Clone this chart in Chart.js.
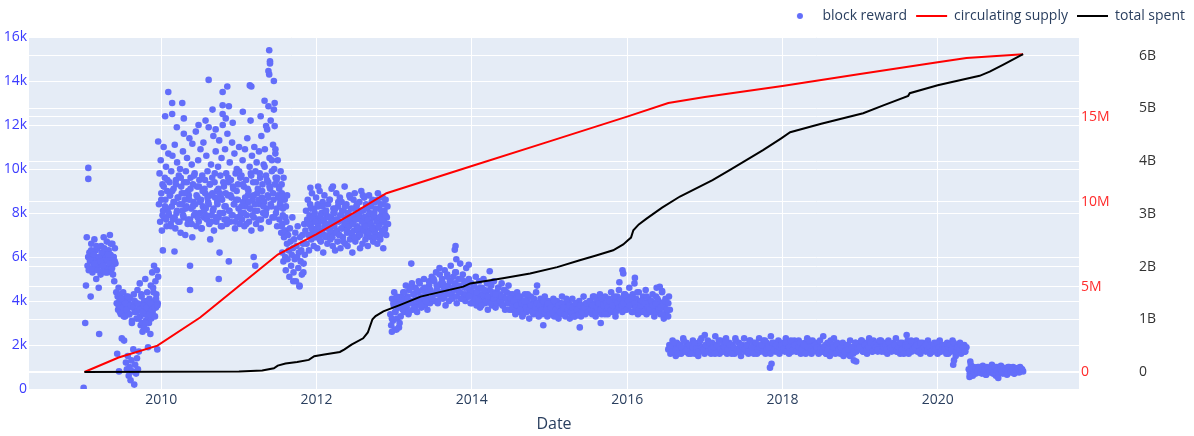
<!DOCTYPE html>
<html lang="en">
<head>
    <meta charset="UTF-8">
    <title>Block reward, circulating supply, total spent</title>
    <script src="https://cdn.jsdelivr.net/npm/chart.js"></script>
    <style>
        body { margin: 0; background: #fff; }
        #wrap { width: 1194px; height: 436px; }
    </style>
</head>
<body>
<div id="wrap"><canvas id="chainChart"></canvas></div>
<script>
// block reward (thousands), bulk of each era spread over its date range
var rewardFrom = [2009.05, 2009.42, 2009.97, 2011.55, 2012.95, 2016.53, 2020.40,
                  2009.08, 2009.45, 2010.00, 2011.90, 2012.97, 2016.56, 2020.42];
var rewardTo   = [2009.41, 2009.96, 2011.62, 2012.92, 2016.55, 2020.37, 2021.10,
                  2009.40, 2009.95, 2011.55, 2012.90, 2016.53, 2020.35, 2021.08];

var reward2009a = [5.6,6.0,5.4,6.2,5.8,4.2,6.6,5.9,5.3,6.1,5.7,6.8,5.5,6.3,5.0,5.9,6.4,5.6,4.6,5.8,
    6.0,5.2,6.5,5.7,6.1,5.4,6.9,5.8,6.2,5.5,6.0,6.7,5.3,5.9,6.3,5.6,7.0,6.1,5.4,5.8,6.6,5.2,6.0,4.9,6.4,5.7];
var reward2009b = [4.4,3.9,1.6,4.2,3.6,4.6,0.8,4.0,3.7,4.3,3.4,4.1,2.3,3.9,3.5,4.4,3.8,2.2,4.0,3.3,
    3.7,1.2,4.2,0.9,3.6,1.5,3.9,0.6,3.4,1.0,4.1,0.4,3.8,1.3,3.0,0.8,3.7,1.8,4.3,0.2,
    3.5,1.1,3.9,0.7,3.2,1.4,4.5,0.9,3.6,1.7,3.8,4.8,3.3,2.9,3.6,4.2,3.0,2.6,3.9,3.4,
    2.8,4.0,3.5,5.0,3.1,3.7,2.7,4.4,3.3,1.9,3.8,3.0,4.1,3.6,2.5,4.7,3.2,3.9,5.3,3.5,
    4.6,3.8,5.6,4.0,3.3,4.9,3.7,4.3,5.4,1.8,3.9,5.1];
var reward2010 = [8.4,9.8,7.6,10.4,8.9,7.2,9.3,8.1,11.0,7.8,9.6,8.6,10.1,7.4,9.0,8.2,10.7,7.9,9.4,8.8,
    7.5,9.9,8.3,10.6,7.7,9.1,8.5,11.1,7.3,9.5,8.0,10.3,8.7,7.6,9.7,8.4,10.0,7.1,9.2,8.9,
    8.1,10.8,7.8,9.4,8.6,7.0,9.9,8.3,10.5,7.5,9.0,8.8,11.4,7.7,9.6,8.2,10.2,6.9,9.3,8.5,
    7.9,9.8,8.4,11.7,7.4,9.2,8.7,10.4,7.6,9.5,8.0,10.9,8.6,7.3,9.7,8.3,11.2,7.8,9.1,8.9,
    8.2,10.6,7.7,9.9,8.5,11.9,7.5,9.3,8.8,10.2,7.9,9.6,8.1,11.5,7.2,9.4,8.7,10.8,7.6,9.0,
    8.4,10.1,7.8,11.3,8.9,9.7,7.4,10.5,8.6,12.0,8.0,9.2,7.7,10.9,8.3,9.8,7.5,11.6,8.8,9.4,
    8.1,10.3,7.6,9.5,8.7,11.2,7.9,9.1,8.4,10.7,7.3,9.8,8.6,10.0,7.8,9.3,8.2,11.0,7.5,9.6,
    8.0,9.7,7.7,10.4,8.5,9.2,7.4,10.9,8.3,9.5,7.9,11.4,8.8,9.0,7.6,10.1,8.2,9.8,7.2,10.6,
    8.6,9.4,7.8,11.0,8.1,9.9,7.5,10.3,8.9,9.1,7.7,10.8,8.4,9.6,7.3,11.5,8.7,9.3,8.0,10.2,
    8.5,10.9,7.9,9.7,8.2,11.8,8.8,9.4,7.6,10.5,9.1,12.2,8.3,9.9,7.8,11.1,8.6,10.0,9.3,10.7,
    8.0,9.5,7.4,10.4,8.7,9.2,7.7,8.4,9.9,7.1,8.9,7.5,8.2,9.6,7.0,8.6,7.8,8.3,7.2,8.8];
var reward2012 = [7.4,6.2,7.9,5.8,6.9,7.2,6.0,5.4,7.6,6.6,5.9,7.0,6.3,5.1,7.3,6.7,5.6,6.1,7.8,6.4,
    5.3,6.8,5.9,7.1,4.9,6.5,6.0,7.4,5.5,6.2,4.7,6.9,5.8,6.3,5.2,7.0,6.6,5.7,7.5,6.1,
    7.2,8.1,6.6,7.7,8.6,7.0,6.3,7.9,8.4,7.4,6.8,8.9,7.1,7.6,6.5,8.2,7.8,6.9,8.7,7.3,
    6.4,7.5,8.3,7.0,9.0,7.7,6.7,8.0,7.2,8.5,6.2,7.6,8.8,7.4,6.9,8.1,7.9,6.6,8.4,7.3,
    7.0,8.6,6.8,7.8,9.1,7.5,6.5,8.2,7.1,8.0,6.3,7.7,8.9,7.2,6.7,8.3,7.6,7.0,8.7,6.4,
    7.9,8.5,7.3,6.9,8.1,7.4,9.2,6.6,7.8,8.4,7.1,6.5,8.0,7.7,8.8,6.8,7.5,8.2,7.0,6.2,
    7.6,8.6,7.2,8.9,6.7,7.9,8.3,7.4,6.9,8.0,7.1,8.5,6.4,7.7,9.0,7.3,6.6,8.1,7.8,8.7,
    7.5,6.8,8.4,7.0,8.2,6.5,7.9,8.8,7.2,7.6,6.9,8.3,7.4,8.6,6.7,7.8,8.0,7.1,8.5,7.3,
    7.7,6.6,8.9,7.0,8.2,7.5,6.8,8.4,7.9,7.2,8.7,6.4,7.6,8.1,7.3,8.6,7.0,7.8,8.3,7.5];
var reward2013 = [3.4,2.9,4.1,3.1,3.8,2.7,3.5,4.0,3.2,3.7,2.8,3.9,3.3,4.2,
    3.8,4.4,3.5,4.1,4.7,3.7,4.2,3.4,4.5,3.9,4.0,4.8,3.6,4.3,3.8,4.6,4.1,3.5,4.4,4.9,
    3.9,4.2,3.7,4.5,4.0,5.0,3.8,4.3,4.6,3.6,4.1,4.7,3.9,4.4,5.1,4.0,
    4.3,4.9,4.0,5.3,4.5,3.9,4.7,5.5,4.2,4.8,5.0,4.1,4.6,5.4,3.8,4.4,5.2,4.7,4.0,4.9,
    5.6,4.3,4.6,5.1,4.2,4.8,5.3,3.9,4.5,5.0,4.4,5.7,4.1,4.7,5.2,4.3,4.9,4.0,5.5,4.6,4.2,5.0,4.5,3.9,4.8,
    4.4,4.0,4.7,4.2,5.1,3.8,4.5,4.1,4.9,3.7,4.3,4.6,4.0,5.0,4.2,3.9,4.4,4.8,3.6,4.1,
    4.5,4.0,4.7,3.8,4.3,4.9,4.1,3.7,4.4,4.2,4.6,3.9,4.3,4.0,4.8,3.8,4.2,4.5,3.6,4.1,4.4,3.9,4.7,4.0,4.3,
    4.0,3.6,4.3,3.8,4.1,3.4,3.9,4.4,3.7,4.0,3.5,4.2,3.8,3.3,4.0,3.6,4.3,3.9,3.5,4.1,
    3.7,3.2,3.9,4.2,3.6,3.8,3.4,4.0,3.7,4.4,3.5,3.9,3.3,3.8,4.1,3.6,3.4,3.9,3.7,4.2,3.5,3.8,3.3,4.0,3.6,
    3.7,3.4,3.9,3.6,4.1,3.3,3.8,3.5,4.0,3.7,3.2,3.6,3.9,3.5,4.2,3.4,3.7,3.8,3.3,3.6,
    4.0,3.5,3.9,3.2,3.7,3.4,4.1,3.6,3.8,3.3,3.5,3.9,3.7,3.4,4.0,3.6,3.3,3.8,3.5,4.2,3.7,3.4,3.9,3.6,3.5,
    3.8,3.5,4.0,3.7,3.4,4.2,3.6,3.9,3.3,3.8,4.1,3.5,3.7,4.3,3.6,3.4,4.0,3.8,3.5,4.2,
    3.7,3.9,3.4,4.1,3.6,3.8,4.4,3.5,3.9,3.7,4.0,3.3,3.8,4.2,3.6,4.5,3.7,3.9,4.1,3.5,3.8,4.3,3.6,4.0,3.9,
    4.2,3.7,4.6,3.9,4.0,3.5,4.3,3.8,4.8,3.6,4.1,3.9,3.4,4.4,3.7,4.0,3.5,3.8,4.2,3.6,
    3.9,4.5,3.4,3.7,4.1,3.8,3.5,4.0,3.6,4.3,3.9,3.3,3.7,4.2,3.5,3.8,4.0,3.6,3.4,3.9,
    4.4,3.7,3.2,3.8,4.1,3.5,3.9,3.3,4.2,3.6];
var reward2016 = [1.8,2.0,1.6,1.9,2.2,1.7,1.9,1.5,2.1,1.8,1.7,2.0,1.6,1.9,2.3,1.8,1.7,2.1,1.9,1.6,
    2.0,1.7,1.9,2.2,1.8,1.6,2.0,1.9,1.5,2.1,1.8,2.3,1.7,1.9,1.6,2.0,1.8,2.2,1.7,1.9,
    1.6,2.1,1.8,1.9,2.4,1.7,2.0,1.8,1.6,2.2,1.9,1.7,2.0,1.8,2.3,1.6,1.9,2.1,1.7,1.8,
    2.0,1.9,1.6,2.2,1.8,1.7,2.1,1.9,1.5,2.0,1.8,2.3,1.7,1.9,2.0,1.6,2.2,1.8,1.9,1.7,
    2.1,1.8,2.0,1.6,1.9,2.3,1.7,2.0,1.8,2.2,1.9,1.6,2.1,1.8,2.0,1.7,2.4,1.9,1.8,2.1,
    1.7,2.0,1.8,2.2,1.6,1.9,2.1,1.8,2.0,1.7,2.3,1.9,1.8,1.6,2.1,2.0,1.7,1.9,2.2,1.8,
    1.7,1.9,2.2,1.8,1.6,2.0,1.9,1.7,2.1,1.8,2.3,1.7,1.9,2.0,1.6,2.2,1.8,1.9,2.1,1.7,
    2.0,1.8,2.2,1.7,1.9,2.4,1.8,2.0,1.6,2.1,1.9,1.7,2.2,1.8,2.0,2.3,1.7,1.9,2.1,1.8,
    1.9,1.6,1.8,2.0,1.5,1.7,1.9,1.6,2.0,1.8,1.5,1.7,1.9,1.6,1.8,2.1,1.7,1.9,1.8,2.0,
    1.9,2.2,1.7,2.0,1.8,2.1,1.6,1.9,2.3,1.8,2.0,1.7,2.2,1.9,1.8,2.1,1.7,2.0,1.9,2.2,
    1.8,2.0,1.7,2.1,1.9,1.6,2.2,1.8,2.0,1.7,1.9,2.1,1.8,2.3,1.7,1.9,2.0,1.6,1.8,2.1,
    1.9,1.7,2.0,1.8,2.2,1.6,1.9,2.1,1.7,2.0,1.8,1.9,2.2,1.7,1.8,2.0,1.6,1.9,2.1,1.8,
    2.0,1.7,1.9,2.2,1.8,1.6,2.0,1.9,1.7,2.1,1.8,2.0,1.6,1.9,2.2,1.7,1.8,2.0,1.9,1.7,
    1.8,2.1,1.6,1.9,2.0,1.7,2.2,1.8,1.9,1.5,2.0,1.7,1.8,2.1,1.6,1.9,1.8,2.0,1.7,1.9];
var reward2020 = [0.9,0.7,1.1,0.8,0.6,1.0,0.9,0.7,0.8,1.0,0.75,0.95,0.85,0.7,1.05,0.8,0.9,0.65,1.0,0.85,
    0.75,0.95,0.8,1.1,0.7,0.9,0.85,0.6,1.0,0.8,0.9,0.75,1.05,0.85,0.7,0.95,0.8,0.9,0.65,1.0,
    0.85,0.75,0.9,0.8,1.0,0.7,0.95,0.85,0.8,0.9,0.75,1.0,0.85,0.9,0.8];

// second pass of readings for the same eras
var reward2009aB = [5.9,6.3,5.5,6.1,5.7,6.5,5.4,6.0,5.8,6.2,5.6,6.4,5.3,5.9,6.1,5.7,6.6,5.5,6.0,5.8];
var reward2009bB = [3.8,3.5,4.1,3.7,3.3,3.9,3.6,4.2,3.4,3.8,3.1,3.7,4.0,3.5,3.9,3.2,3.6,4.3,3.5,3.8,
    3.0,3.7,4.0,3.4,3.9,3.6,4.4,3.7,4.1,3.8];
var reward2010B = [8.6,7.9,9.2,8.3,7.7,9.5,8.0,8.8,7.4,9.0,8.5,7.8,9.3,8.1,8.7,7.6,9.6,8.4,7.9,8.9,
    8.2,9.4,7.7,8.6,9.1,7.5,8.3,9.7,8.0,8.8,7.8,9.2,8.5,7.3,9.0,8.1,9.5,7.9,8.7,8.4,
    9.3,7.6,8.9,8.2,9.8,7.8,8.5,9.1,8.0,8.7,7.4,9.4,8.3,8.9,7.7,9.6,8.1,8.8,7.9,9.2,
    8.4,7.6,9.0,8.6,9.9,7.8,8.3,9.3,8.0,8.7,7.5,9.1,8.5,8.2,9.7,7.9,8.8,8.4,9.4,8.1,
    8.6,9.8,7.7,9.0,8.3,10.1,8.0,9.5,8.7,9.2,8.4,10.4,8.9,7.8,9.6,8.2,8.8,9.1,8.5,9.3];
var reward2012B = [7.5,7.0,8.2,7.3,7.8,6.9,8.0,7.6,7.2,8.4,7.4,6.8,7.9,7.1,8.3,7.7,7.0,8.1,7.5,7.3,
    7.8,8.6,7.2,7.6,6.9,8.0,7.4,8.2,7.1,7.7,8.5,7.0,7.9,7.3,8.1,6.7,7.6,8.3,7.5,7.2,
    8.0,7.4,8.7,7.1,7.8,7.5,8.2,6.9,7.7,8.4,7.3,7.9,7.0,8.1,7.6,8.8,7.2,7.8,7.4,8.3,
    7.7,7.1,8.0,7.5,8.5,7.3,7.9,6.9,8.2,7.6,8.6,7.4,7.8,7.0,8.1,7.7,8.4,7.2,7.9,7.5];
var reward2013B = [3.2,3.9,3.5,4.2,3.7,3.0,4.0,3.6,4.4,3.8,4.1,3.5,4.6,3.9,4.3,3.7,4.5,4.0,4.8,3.8,4.2,4.6,4.0,4.4,4.9,
    4.5,4.1,5.0,4.3,4.7,4.0,5.2,4.4,4.8,4.2,4.6,5.1,4.3,4.9,4.1,4.5,5.3,4.2,4.7,4.4,5.0,4.1,4.6,4.3,4.8,
    4.2,4.5,3.9,4.7,4.1,4.4,4.0,4.6,3.8,4.3,4.5,4.0,4.2,4.8,3.9,4.4,4.1,4.3,3.9,4.6,4.0,4.2,3.8,4.5,4.1,
    3.9,3.6,4.1,3.7,4.0,3.5,3.8,4.2,3.6,3.9,3.4,4.0,3.7,4.3,3.6,3.8,3.5,4.1,3.7,3.9,3.4,3.8,3.6,4.0,3.5,
    3.6,3.9,3.4,3.7,3.5,4.0,3.6,3.3,3.8,3.5,3.9,3.7,3.4,4.1,3.6,3.8,3.5,3.7,3.3,3.9,3.6,3.4,3.8,3.5,3.7,
    3.7,3.9,3.5,4.0,3.6,3.8,4.2,3.5,3.7,3.9,3.6,4.1,3.8,3.4,3.9,3.7,4.0,3.6,3.8,4.2,3.5,3.9,3.7,4.1,3.8,
    3.9,4.3,3.6,4.0,3.8,4.1,3.5,3.9,3.7,4.4,3.6,3.8,4.0,3.5,3.9,4.2,3.7,3.6,4.0,3.8,3.5,3.9,4.1,3.6,3.7,3.4,3.8,4.0,3.6,3.9];
var reward2016B = [1.9,1.7,2.1,1.8,1.6,2.0,1.9,2.2,1.7,1.8,2.0,1.6,1.9,2.1,1.8,1.7,2.2,1.9,1.8,2.0,
    1.7,2.1,1.8,1.9,1.6,2.0,2.2,1.8,1.7,1.9,2.1,1.8,2.0,1.6,1.9,2.3,1.8,1.7,2.0,1.9,
    1.8,2.0,1.7,2.2,1.9,1.6,2.1,1.8,1.9,2.0,1.7,2.2,1.8,1.9,1.6,2.1,1.8,2.0,1.7,1.9,
    2.0,1.8,2.1,1.7,1.9,2.2,1.8,2.0,1.7,1.9,2.1,1.8,2.0,1.6,1.9,2.2,1.8,1.7,2.0,1.9,
    1.6,1.8,1.7,1.9,1.6,1.8,1.5,1.7,1.9,1.6,2.0,1.8,1.9,2.1,1.7,2.0,1.8,2.2,1.9,1.7,
    2.1,1.8,1.9,2.2,1.7,2.0,1.8,1.9,2.1,1.7,2.0,1.9,1.8,2.2,1.7,1.9,2.0,1.8,2.1,1.9,
    1.8,2.0,1.7,1.9,2.1,1.8,1.6,2.0,1.9,1.7,2.2,1.8,1.9,2.0,1.7,2.1,1.8,1.9,2.0,1.8,
    1.9,1.7,2.0,1.8,2.1,1.9,1.7,2.0,1.8,1.6,1.9,2.0,1.8,2.1,1.7,1.9,1.8,2.0,1.9,1.7];
var reward2020B = [0.85,0.95,0.7,0.9,0.8,1.0,0.75,0.9,0.85,0.65,0.95,0.8,0.9,0.75,1.0,
    0.85,0.7,0.9,0.8,0.95,0.85,0.75,1.0,0.8,0.9,0.7,0.85,0.95,0.8,0.9];

// stray block reward points (year, thousands)
var strayYear = [2009.0,2009.02,2009.03,2009.06,2009.06,2009.2,2009.04,
    2009.96,2010.09,2010.14,2010.14,2010.27,2010.29,2010.29,2010.40,2010.57,2010.61,2010.79,2010.85,2010.79,
    2010.79,2010.87,2010.92,2011.14,2011.16,2011.15,2011.39,2011.40,2011.40,2011.38,2011.39,2011.45,2011.38,
    2011.46,2011.45,2011.46,2011.35,2011.47,2011.49,2011.55,2010.05,2010.20,2010.48,2010.66,2010.70,2010.83,
    2011.05,2011.28,2011.33,2010.02,2010.17,2010.37,2010.37,2010.63,2010.75,2010.74,2010.87,2011.19,2011.21,
    2011.78,2011.70,2011.92,2012.02,2012.21,2011.83,
    2013.79,2013.78,2013.80,2013.22,2013.96,2014.23,2014.84,2015.94,2015.95,2016.10,2016.38,2016.45,2015.39,
    2014.92,2012.97,2013.03,2013.00,2015.66,2015.90,2016.42,
    2017.84,2017.86,2018.92,2018.95,2020.20,2020.21,2019.60,2017.00,2020.42,2020.41,2020.78];
var strayK = [0.05,3.0,4.7,10.05,9.55,2.5,6.9,
    11.25,13.5,13.0,12.5,13.0,12.3,11.6,11.15,12.2,14.05,13.5,13.75,12.9,
    12.5,12.85,12.1,13.8,13.75,12.2,15.4,14.9,14.8,14.45,14.3,14.0,12.85,
    13.0,12.7,11.95,11.95,10.9,9.6,8.75,12.4,11.9,12.0,12.7,11.8,12.3,
    12.6,12.4,13.1,6.3,6.25,5.6,4.5,6.8,6.2,5.0,5.8,6.0,5.6,
    4.66,4.9,9.15,9.2,9.2,5.3,
    6.5,6.33,5.9,5.7,5.65,5.35,4.7,5.4,5.25,5.05,4.6,4.45,2.8,
    2.9,2.6,2.7,4.4,3.0,4.85,4.65,
    0.97,1.15,1.3,1.25,1.1,1.3,2.45,2.45,1.25,0.55,0.5];

// circulating supply (millions)
var supplyYear = [2009.01,2009.45,2009.95,2010.5,2010.58,2011.0,2011.5,2012.0,2012.5,2012.9,2013.0,
    2014.0,2015.0,2016.0,2016.53,2017.0,2018.0,2019.0,2020.0,2020.37,2021.1];
var supplyM = [0,0.85,1.55,3.2,3.5,5.05,6.9,8.1,9.4,10.5,10.65,12.1,13.55,15.0,15.8,16.15,16.8,17.5,18.2,18.45,18.67];

// total spent (billions)
var spentYear = [2009.01,2010.0,2011.0,2011.3,2011.45,2011.5,2011.6,2011.75,2011.9,2011.97,2012.1,2012.3,
    2012.36,2012.45,2012.6,2012.66,2012.72,2012.76,2012.86,2013.07,2013.34,2013.6,2013.89,2013.98,2014.4,
    2014.75,2015.1,2015.39,2015.6,2015.82,2015.95,2016.01,2016.05,2016.08,2016.15,2016.25,2016.45,2016.68,
    2017.1,2017.32,2017.75,2017.98,2018.1,2018.5,2019.04,2019.3,2019.62,2019.64,2020.0,2020.54,2020.67,
    2020.84,2021.1];
var spentB = [0,0.003,0.01,0.03,0.07,0.12,0.16,0.19,0.23,0.3,0.33,0.38,
    0.43,0.52,0.64,0.75,1.0,1.06,1.15,1.27,1.43,1.52,1.62,1.68,1.78,
    1.87,1.99,2.12,2.21,2.31,2.42,2.5,2.55,2.69,2.8,2.91,3.12,3.33,
    3.64,3.83,4.21,4.43,4.55,4.71,4.91,5.06,5.24,5.29,5.44,5.62,5.70,
    5.83,6.03];

var yearTicks = [2010, 2012, 2014, 2016, 2018, 2020];
var rewardTicks = [0, 2000, 4000, 6000, 8000, 10000, 12000, 14000, 16000];
var supplyTicks = [0, 5e6, 10e6, 15e6];
var spentTicks = [0, 1e9, 2e9, 3e9, 4e9, 5e9, 6e9];

var eras = [reward2009a, reward2009b, reward2010, reward2012, reward2013, reward2016, reward2020,
            reward2009aB, reward2009bB, reward2010B, reward2012B, reward2013B, reward2016B, reward2020B];
var rewardPoints = [];
eras.forEach(function(vals, e) {
    var span = rewardTo[e] - rewardFrom[e];
    vals.forEach(function(v, i) {
        rewardPoints.push({ x: rewardFrom[e] + span * i / (vals.length - 1), y: v * 1000 });
    });
});
strayYear.forEach(function(yr, i) { rewardPoints.push({ x: yr, y: strayK[i] * 1000 }); });

var supplyPoints = supplyYear.map(function(yr, i) { return { x: yr, y: supplyM[i] * 1e6 }; });
var spentPoints = spentYear.map(function(yr, i) { return { x: yr, y: spentB[i] * 1e9 }; });

// small dot for the legend entry of the scatter
var dot = document.createElement('canvas');
dot.width = 8; dot.height = 8;
var dc = dot.getContext('2d');
dc.fillStyle = '#636efa';
dc.beginPath(); dc.arc(4, 4, 3, 0, Math.PI * 2); dc.fill();

var font = 'Open Sans';
var plotBg = {
    id: 'plotBg',
    beforeDraw: function(chart) {
        var a = chart.chartArea, c = chart.ctx;
        c.save();
        c.fillStyle = '#e5ecf6';
        c.fillRect(a.left, a.top, a.right - a.left, a.bottom - a.top);
        c.restore();
    }
};
var legendHeight = {
    id: 'legendHeight',
    beforeInit: function(chart) {
        var fit = chart.legend.fit;
        chart.legend.fit = function() { fit.call(this); this.height = 37; };
    }
};
function setTicks(list) {
    return function(axis) { axis.ticks = list.map(function(v) { return { value: v }; }); };
}
function zeroWide(ctx) { return ctx.tick && ctx.tick.value === 0 ? 2 : 1; }

var ctx = document.getElementById('chainChart').getContext('2d');
var chainChart = new Chart(ctx, {
    type: 'scatter',
    data: {
        datasets: [
            { label: 'block reward', data: rewardPoints, yAxisID: 'y', order: 3,
              backgroundColor: '#636efa', borderWidth: 0, pointRadius: 3.3, pointHoverRadius: 3.3 },
            { type: 'line', label: 'circulating supply', data: supplyPoints, yAxisID: 'y2', order: 2,
              borderColor: '#ff0000', backgroundColor: '#ff0000', borderWidth: 2, pointRadius: 0, tension: 0 },
            { type: 'line', label: 'total spent', data: spentPoints, yAxisID: 'y3', order: 1,
              borderColor: '#000000', backgroundColor: '#000000', borderWidth: 2, pointRadius: 0, tension: 0 }
        ]
    },
    options: {
        responsive: true,
        maintainAspectRatio: false,
        animation: false,
        layout: { padding: 0 },
        plugins: {
            tooltip: { enabled: false },
            legend: {
                position: 'top',
                align: 'end',
                labels: {
                    usePointStyle: true,
                    pointStyleWidth: 31,
                    boxHeight: 14,
                    padding: 9,
                    color: '#2a3f5f',
                    font: { family: font, size: 14 },
                    generateLabels: function(chart) {
                        var items = Chart.defaults.plugins.legend.labels.generateLabels(chart);
                        items.sort(function(a, b) { return a.datasetIndex - b.datasetIndex; });
                        items[0].pointStyle = dot;
                        items[1].pointStyle = 'line';
                        items[2].pointStyle = 'line';
                        return items;
                    }
                }
            }
        },
        scales: {
            x: {
                type: 'linear', position: 'bottom', min: 2008.296, max: 2021.82,
                afterBuildTicks: setTicks(yearTicks),
                afterFit: function(a) { a.height = 47; },
                ticks: { callback: function(v) { return String(v); }, color: '#2a3f5f',
                         font: { family: font, size: 14 }, padding: 3, maxRotation: 0, autoSkip: false },
                grid: { color: '#ffffff', lineWidth: 1, drawTicks: false },
                border: { display: false },
                title: { display: true, text: 'Date', color: '#2a3f5f',
                         font: { family: font, size: 16 }, padding: { top: 0, bottom: 2 } }
            },
            y: {
                position: 'left', min: 0, max: 16000,
                afterBuildTicks: setTicks(rewardTicks),
                afterFit: function(a) { a.width = 29; },
                ticks: { callback: function(v) { return v === 0 ? '0' : (v / 1000) + 'k'; },
                         color: '#3b3bff', font: { family: font, size: 14 }, padding: 2 },
                grid: { color: '#ffffff', lineWidth: 1, drawTicks: false },
                border: { display: false }
            },
            y2: {
                position: 'right', min: -1.0e6, max: 19.68e6,
                afterBuildTicks: setTicks(supplyTicks),
                afterFit: function(a) { a.width = 58; },
                ticks: { callback: function(v) { return v === 0 ? '0' : (v / 1e6) + 'M'; },
                         color: '#ff2b2b', font: { family: font, size: 14 }, padding: 2 },
                grid: { color: '#ffffff', lineWidth: zeroWide, drawTicks: false },
                border: { display: false }
            },
            y3: {
                position: 'right', min: -0.323e9, max: 6.357e9,
                afterBuildTicks: setTicks(spentTicks),
                afterFit: function(a) { a.width = 57; },
                ticks: { callback: function(v) { return v === 0 ? '0' : (v / 1e9) + 'B'; },
                         color: '#333333', font: { family: font, size: 14 }, padding: 2 },
                grid: { color: '#ffffff', lineWidth: zeroWide, drawTicks: false },
                border: { display: false }
            }
        }
    },
    plugins: [plotBg, legendHeight]
});
</script>
</body>
</html>
